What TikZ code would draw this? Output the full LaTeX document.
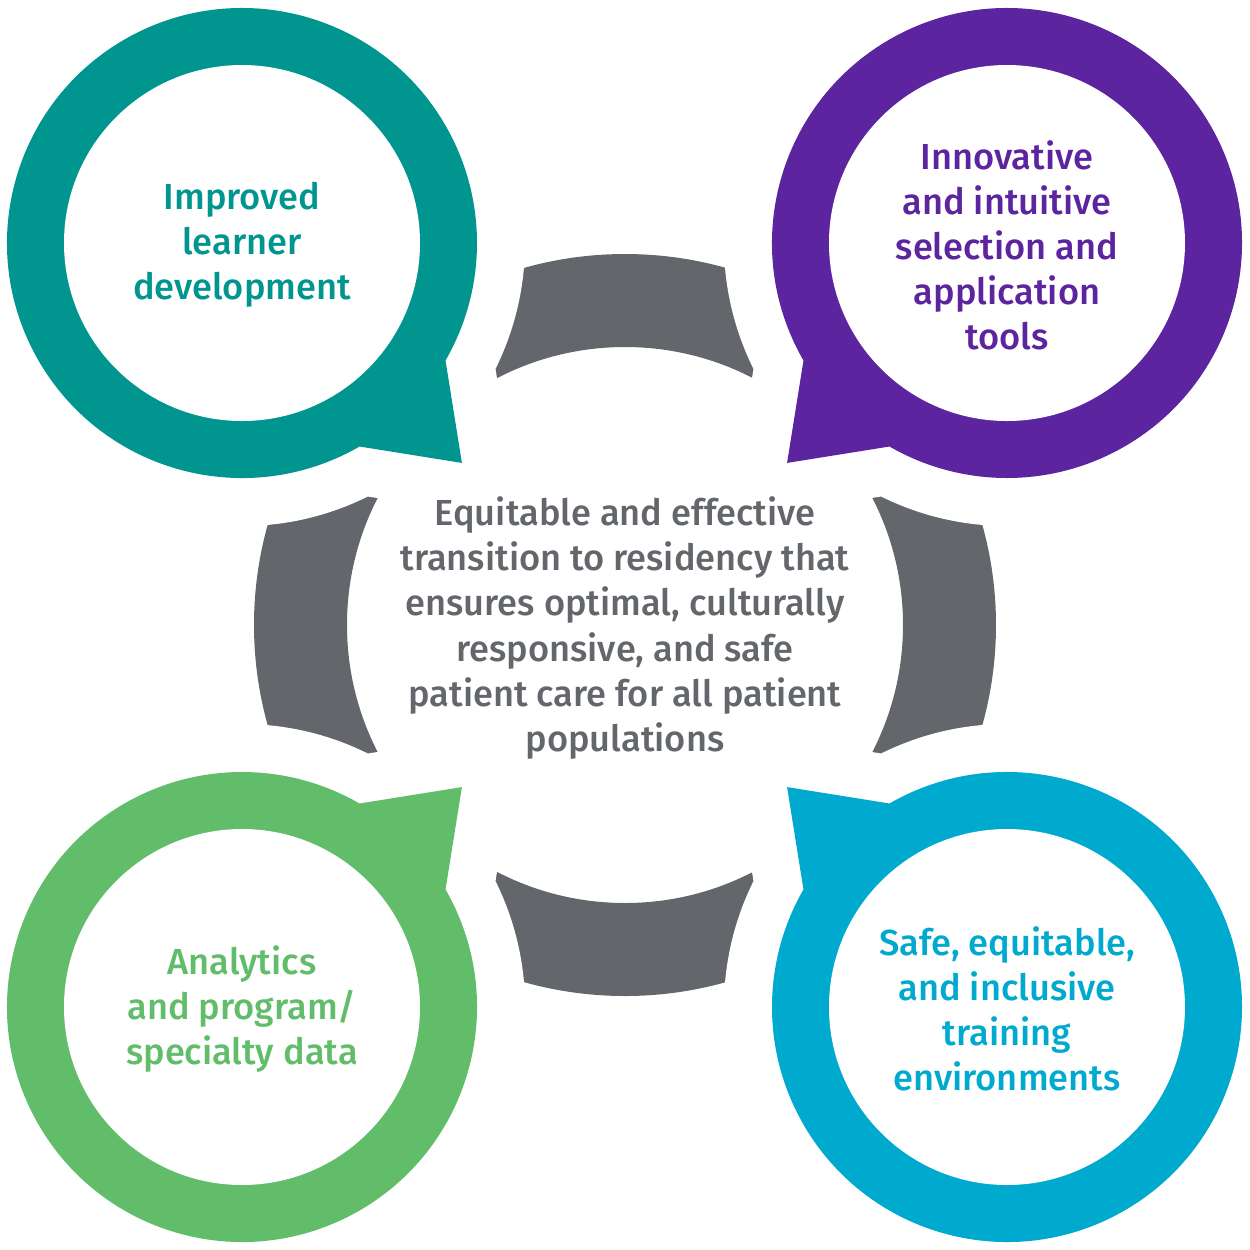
\documentclass[tikz,border=0pt]{standalone}
\usepackage{fontspec}
\setmainfont{Fira Sans Medium}
\usetikzlibrary{calc}

\definecolor{ringteal}{RGB}{0,150,143}
\definecolor{ringpurple}{RGB}{92,36,159}
\definecolor{ringgreen}{RGB}{98,189,106}
\definecolor{ringblue}{RGB}{0,169,206}
\definecolor{ringgray}{RGB}{99,102,106}

% speech bubble: #1 centre, #2 direction of the tail
\newcommand{\bubblepath}[2]{($(#1)+(#2+15:235)$) arc[start angle=#2+15, end angle=#2+345, radius=235] -- ($(#1)+(#2:311)$) -- cycle}

\begin{document}
\begin{tikzpicture}[x=0.01cm, y=-0.01cm,
    every node/.style={font=\fontsize{10.3}{12.8}\selectfont, align=center, inner sep=0pt},
    gap/.style={draw=white, line width=0.96cm, line join=round}]
  \useasboundingbox (0,0) rectangle (1250,1250);

  % 1. centres of the four bubbles
  \coordinate (learner) at (242,243);
  \coordinate (tools) at (1007,243);
  \coordinate (data) at (242,1007);
  \coordinate (environ) at (1007,1007);
  \coordinate (hub) at (625,625);

  % 2. grey ring round the centre
  \fill[ringgray, even odd rule] (hub) circle[radius=371] (hub) circle[radius=278];

  % 3. bubbles with white margin
  \foreach \c/\a/\col in {learner/45/ringteal, tools/135/ringpurple, data/-45/ringgreen, environ/-135/ringblue}{
    \draw[gap] \bubblepath{\c}{\a};
    \fill[\col] \bubblepath{\c}{\a};
    \fill[white] (\c) circle[radius=178];
  }

  % 4. texts
  \node[text=ringgray] (outcome) at (625,628) {Equitable and effective\\transition to residency that\\ensures optimal, culturally\\responsive, and safe\\patient care for all patient\\populations};
  \node[text=ringteal] (learnertext) at (242,245) {Improved\\learner\\development};
  \node[text=ringpurple] (toolstext) at (1007,245) {Innovative\\and intuitive\\selection and\\application\\tools};
  \node[text=ringgreen] (datatext) at (242,1009) {Analytics\\and program/\\specialty data};
  \node[text=ringblue] (environtext) at (1007,1009) {Safe, equitable,\\and inclusive\\training\\environments};
\end{tikzpicture}
\end{document}
